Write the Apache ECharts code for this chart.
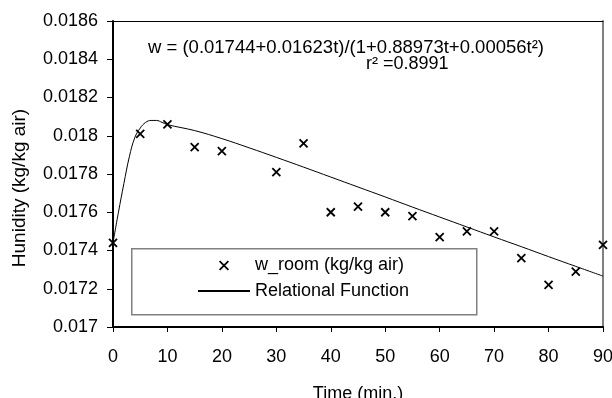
<!DOCTYPE html>
<html>
<head>
<meta charset="utf-8">
<script src="https://cdn.jsdelivr.net/npm/echarts@6/dist/echarts.min.js"></script>
<style>
html, body { margin: 0; padding: 0; background: #fff; }
#chart { width: 612px; height: 398px; }
</style>
</head>
<body>
<div id="chart"></div>
<script>
// measured humidity (kg/kg air) vs time (min)
var roomTimes = [0, 5, 10, 15, 20, 30, 35, 40, 45, 50, 55, 60, 65, 70, 75, 80, 85, 90];
var roomValues = [0.01744, 0.01801, 0.01806, 0.01794, 0.01792, 0.01781, 0.01796, 0.01760, 0.01763,
    0.01760, 0.01758, 0.01747, 0.01750, 0.01750, 0.01736, 0.01722, 0.01729, 0.01743];
// relational function curve
var fitTimes = [0, 1, 2, 3, 4, 5, 6, 7, 8, 9, 10, 15, 20, 25, 30, 35, 40, 45, 50, 55, 60, 65, 70, 75, 80, 85, 90];
var fitValues = [0.01744, 0.01760, 0.01775, 0.01789, 0.01799, 0.01804, 0.01807, 0.01808, 0.01808, 0.01807,
    0.018058, 0.018027, 0.017985, 0.017937, 0.017887, 0.017836, 0.017784, 0.017732, 0.017680,
    0.017627, 0.017575, 0.017523, 0.017471, 0.017420, 0.017368, 0.017317, 0.017266];

var FONT = 'Liberation Sans';
var crossPath = 'path://M0,0L10,10M10,0L0,10';
// same cross with empty margin so the legend icon stays small
var crossIcon = 'path://M-3,-3M13,13M0,0L10,10M10,0L0,10';

function pairs(xs, ys) {
    var out = [];
    for (var i = 0; i < xs.length; i++) out.push([xs[i], ys[i]]);
    return out;
}

var myChart = echarts.init(document.getElementById('chart'));

var option = {
    animation: false,
    backgroundColor: '#fff',
    textStyle: { fontFamily: FONT },
    grid: { left: 113, right: 9, top: 21, bottom: 71, outerBoundsMode: 'none', containLabel: false },
    graphic: [
        // legend frame
        { type: 'rect', left: 131, top: 248, z: 0,
          shape: { width: 345, height: 66 },
          style: { fill: '#fff', stroke: '#808080', lineWidth: 1.5 } },
        { type: 'text', left: 148, top: 38,
          style: { text: 'w = (0.01744+0.01623t)/(1+0.88973t+0.00056t²)', font: '18.5px ' + FONT, fill: '#000' } },
        { type: 'text', left: 366, top: 55,
          style: { text: 'r² =0.8991', font: '18px ' + FONT, fill: '#000' } }
    ],
    legend: {
        orient: 'vertical',
        left: 197, top: 256, padding: 0,
        itemWidth: 52, itemHeight: 14, itemGap: 7,
        textStyle: { fontSize: 18, color: '#000', fontFamily: FONT },
        data: [
            { name: 'w_room (kg/kg air)', icon: crossIcon,
              itemStyle: { color: 'none', borderColor: '#000', borderWidth: 1.8 } },
            { name: 'Relational Function', itemStyle: { opacity: 0 } }
        ]
    },
    xAxis: [{
        type: 'value', min: 0, max: 90, interval: 10,
        name: 'Time (min.)', nameLocation: 'middle', nameGap: 58,
        nameTextStyle: { fontSize: 18, color: '#000' },
        axisLine: { show: true, lineStyle: { color: '#000', width: 2 } },
        axisTick: { show: true, length: 5, lineStyle: { color: '#000' } },
        axisLabel: { fontSize: 18, color: '#000', margin: 21 },
        splitLine: { show: false }
    }, {
        type: 'value', position: 'top', min: 0, max: 90,
        axisLine: { show: true, onZero: false, lineStyle: { color: '#000', width: 1 } },
        axisTick: { show: false }, axisLabel: { show: false }, splitLine: { show: false }
    }],
    yAxis: [{
        type: 'value', min: 0.017, max: 0.0186, interval: 0.0002,
        name: 'Hunidity (kg/kg air)', nameLocation: 'middle', nameGap: 84,
        nameTextStyle: { fontSize: 19, color: '#000', padding: [0, 28, 0, 0] },
        axisLine: { show: true, lineStyle: { color: '#000', width: 2 } },
        axisTick: { show: true, length: 6, lineStyle: { color: '#000' } },
        axisLabel: {
            fontSize: 18, color: '#000', margin: 15,
            formatter: function (v) { return String(parseFloat(v.toFixed(4))); }
        },
        splitLine: { show: false }
    }, {
        type: 'value', position: 'right', min: 0.017, max: 0.0186,
        axisLine: { show: true, onZero: false, lineStyle: { color: '#808080', width: 2 } },
        axisTick: { show: false }, axisLabel: { show: false }, splitLine: { show: false }
    }],
    series: [{
        name: 'Relational Function',
        type: 'line',
        smooth: 0.4,
        symbol: 'none',
        lineStyle: { color: '#000', width: 1 },
        itemStyle: { color: '#000' },
        data: pairs(fitTimes, fitValues),
        z: 3
    }, {
        name: 'w_room (kg/kg air)',
        type: 'scatter',
        symbol: crossPath,
        symbolSize: 8,
        itemStyle: { color: 'none', borderColor: '#000', borderWidth: 1.8, opacity: 1 },
        data: pairs(roomTimes, roomValues),
        z: 4
    }]
};

myChart.setOption(option);
</script>
</body>
</html>
